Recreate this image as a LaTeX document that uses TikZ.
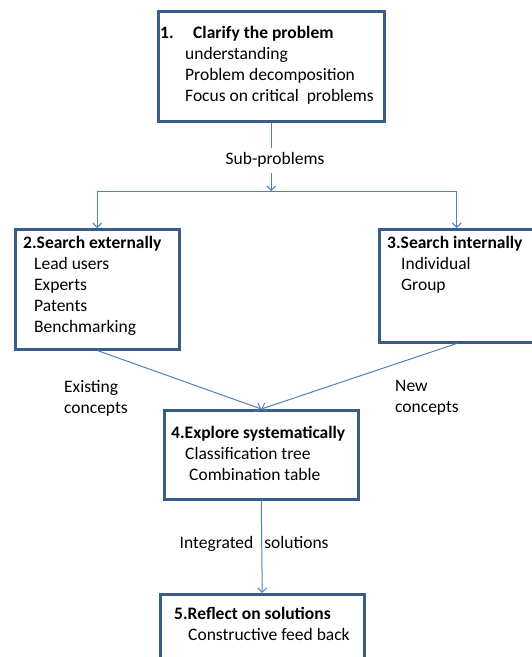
\documentclass[tikz,border=0pt]{standalone}
\usepackage{fontspec}
\setmainfont{Carlito}
\usetikzlibrary{arrows.meta,positioning}
\definecolor{boxblue}{RGB}{56,93,138}
\definecolor{lineblue}{RGB}{79,129,189}
\begin{document}
\begin{tikzpicture}[x=1pt, y=-1pt,
    >={Straight Barb[length=4.5pt,width=9pt]},
    box/.style={draw=boxblue, line width=2.5pt, anchor=north west, inner sep=0pt},
    txt/.style={anchor=north west, align=left, inner sep=0pt,
      font=\fontsize{17.5}{21}\selectfont},
    lbl/.style={inner sep=0pt, font=\fontsize{17.5}{21}\selectfont},
    flow/.style={draw=lineblue, line width=1pt}]
  \useasboundingbox (0,0) rectangle (531,657);

  % Boxes
  \node[box, minimum width=226pt, minimum height=110pt] (box1) at (157,10) {};
  \node[box, minimum width=164pt, minimum height=120pt] (box2) at (14,228) {};
  \node[box, minimum width=155pt, minimum height=113pt] (box3) at (378,228) {};
  \node[box, minimum width=194pt, minimum height=89pt] (box4) at (163,409) {};
  \node[box, minimum width=204pt, minimum height=80pt] (box5) at (159,593) {};

  % Box texts
  \node[txt] (text1) at (160,26.5) {\textbf{\makebox[33pt][l]{1.}Clarify the problem}\\
    \hspace*{25pt}understanding\\
    \hspace*{25pt}Problem decomposition\\
    \hspace*{25pt}Focus on critical\ \ problems};
  \node[txt] (text2) at (23,236.5) {\textbf{2.Search externally}\\
    \hspace*{11pt}Lead users\\
    \hspace*{11pt}Experts\\
    \hspace*{11pt}Patents\\
    \hspace*{11pt}Benchmarking};
  \node[txt] (text3) at (387,236.5) {\textbf{3.Search internally}\\
    \hspace*{14pt}Individual\\
    \hspace*{14pt}Group};
  \node[txt] (text4) at (171,425.5) {\textbf{4.Explore systematically}\\
    \hspace*{14pt}Classification tree\\
    \hspace*{18pt}Combination table};
  \node[txt] (text5) at (174,606.5) {\textbf{5.Reflect on solutions}\\
    \hspace*{14pt}Constructive feed back};

  % Labels on the connectors
  \node[lbl] (sub) at (275,160) {Sub-problems};
  \node[txt] (existing) at (64,380) {Existing\\concepts};
  \node[txt] (new) at (395,380) {New\\concepts};
  \node[lbl, anchor=west] (integ) at (179.5,544) {Integrated\hspace{11pt}solutions};

  % Connectors
  \coordinate (split) at (box1.south |- 0,191);
  \draw[flow] (box1.south) -- ([yshift=4pt]box1.south |- sub.north);
  \draw[flow, ->] ([yshift=-5pt]box1.south |- sub.south) -- (split);
  \draw[flow, ->] (split) -| (box2.north);
  \draw[flow, ->] (split) -| (box3.north);
  \draw[flow, ->] (box2.south) -- (box4.north);
  \draw[flow, ->] (box3.south) -- (box4.north);
  \draw[flow, ->] (box4.south) -- (box5.north);
\end{tikzpicture}
\end{document}
